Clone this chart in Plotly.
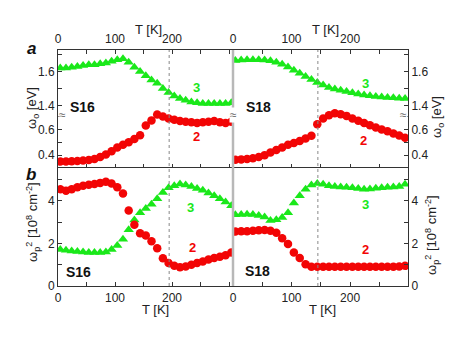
import plotly.graph_objects as go

W, H = 469, 349
# the page body keeps its default 8 px margin, so positions below are shifted back by it
OFF = 8

# temperature grids (K)
T_S16 = [4, 14, 24, 34, 44, 54, 64, 74, 84, 94, 104, 114, 124, 134, 144, 154,
         164, 174, 184, 194, 204, 214, 224, 234, 244, 254, 264, 274, 284, 294, 304]
T_S18 = [4, 14, 24, 34, 44, 54, 64, 74, 84, 94, 104, 114, 124, 134, 144, 154,
         164, 174, 184, 194, 204, 214, 224, 234, 244, 254, 264, 274, 284, 294]

# panel a: omega_o [eV]
S16_wo3 = [1.620, 1.620, 1.625, 1.630, 1.635, 1.640, 1.640, 1.645, 1.650, 1.660, 1.670,
           1.675, 1.655, 1.625, 1.600, 1.575, 1.550, 1.530, 1.500, 1.475, 1.455, 1.440,
           1.430, 1.420, 1.415, 1.410, 1.410, 1.410, 1.410, 1.410, 1.415]
S16_wo2 = [0.350, 0.350, 0.352, 0.355, 0.358, 0.362, 0.370, 0.385, 0.405, 0.430, 0.460,
           0.480, 0.500, 0.525, 0.555, 0.630, 0.670, 0.715, 0.700, 0.685, 0.675, 0.665,
           0.660, 0.655, 0.650, 0.655, 0.660, 0.665, 0.655, 0.650, 0.660]
S18_wo3 = [1.665, 1.668, 1.670, 1.670, 1.670, 1.668, 1.664, 1.655, 1.643, 1.627, 1.607,
           1.590, 1.570, 1.552, 1.535, 1.520, 1.506, 1.497, 1.489, 1.481, 1.474, 1.467,
           1.461, 1.456, 1.452, 1.449, 1.446, 1.444, 1.442, 1.440]
S18_wo2 = [0.365, 0.367, 0.370, 0.376, 0.385, 0.400, 0.420, 0.440, 0.460, 0.480, 0.495,
           0.510, 0.530, 0.550, 0.640, 0.685, 0.710, 0.725, 0.718, 0.705, 0.685, 0.668,
           0.650, 0.632, 0.615, 0.600, 0.585, 0.568, 0.552, 0.535]

# panel b: omega_p^2 [10^8 cm^-2]
S16_wp3 = [1.72, 1.68, 1.65, 1.62, 1.60, 1.58, 1.57, 1.58, 1.60, 1.72, 1.90, 2.20, 2.65,
           3.10, 3.45, 3.65, 3.85, 4.10, 4.40, 4.62, 4.72, 4.80, 4.75, 4.68, 4.58, 4.50,
           4.38, 4.25, 4.10, 3.95, 3.78]
S16_wp2 = [4.55, 4.48, 4.55, 4.65, 4.72, 4.76, 4.80, 4.85, 4.90, 4.82, 4.65, 4.35, 3.55,
           2.88, 2.48, 2.38, 2.10, 1.78, 1.30, 1.08, 0.95, 0.88, 0.92, 1.00, 1.08, 1.15,
           1.25, 1.32, 1.38, 1.45, 1.58]
S18_wp3 = [3.35, 3.36, 3.38, 3.36, 3.32, 3.25, 3.08, 3.12, 3.22, 3.45, 3.90, 4.25, 4.55,
           4.75, 4.82, 4.78, 4.72, 4.68, 4.66, 4.64, 4.62, 4.58, 4.55, 4.56, 4.60, 4.62,
           4.64, 4.66, 4.68, 4.78]
S18_wp2 = [2.56, 2.57, 2.58, 2.60, 2.62, 2.63, 2.60, 2.50, 2.25, 1.98, 1.58, 1.32, 1.02,
           0.91, 0.90, 0.91, 0.90, 0.91, 0.91, 0.90, 0.91, 0.90, 0.91, 0.90, 0.91, 0.91,
           0.90, 0.91, 0.92, 0.95]

GREEN = '#1ae81a'
RED = '#f20505'
AX = '#333333'
FONT = 'Liberation Sans, Arial, sans-serif'


def px(x):
    return (x - OFF) / W


def py(y):
    return 1 - (y - OFF) / H


def tri(t, v, xa, ya):
    return go.Scatter(x=t, y=v, xaxis=xa, yaxis=ya, mode='markers', showlegend=False,
                      marker=dict(symbol='triangle-up', size=9, color=GREEN, line=dict(width=0)))


def dot(t, v, xa, ya):
    return go.Scatter(x=t, y=v, xaxis=xa, yaxis=ya, mode='markers', showlegend=False,
                      marker=dict(symbol='circle', size=8.5, color=RED, line=dict(width=0)))


fig = go.Figure()
fig.add_trace(tri(T_S16, S16_wo3, 'x', 'y'))
fig.add_trace(dot(T_S16, S16_wo2, 'x2', 'y2'))
fig.add_trace(tri(T_S16, S16_wp3, 'x3', 'y3'))
fig.add_trace(dot(T_S16, S16_wp2, 'x3', 'y3'))
fig.add_trace(tri(T_S18, S18_wo3, 'x4', 'y4'))
fig.add_trace(dot(T_S18, S18_wo2, 'x5', 'y5'))
fig.add_trace(tri(T_S18, S18_wp3, 'x6', 'y6'))
fig.add_trace(dot(T_S18, S18_wp2, 'x6', 'y6'))

XL = [px(58), px(233)]
XR = [px(233), px(408)]
YA_UP = [py(107), py(50)]
YA_LO = [py(168), py(107)]
YB = [py(286), py(168)]

tickfont = dict(size=12, color='#222222', family=FONT)


def xax(domain, rng, anchor, side, labels, line=True, mirror=False):
    return dict(domain=domain, range=rng, anchor=anchor, side=side, automargin=False,
                tickvals=[0, 50, 100, 150, 200, 250, 300],
                ticktext=['0', '', '100', '', '200', '', ''],
                showticklabels=labels, ticks='inside', ticklen=4, tickcolor=AX,
                showline=line, mirror=mirror, linecolor=AX, linewidth=1,
                showgrid=False, zeroline=False, tickfont=tickfont, ticklabelstandoff=1)


def yax(domain, rng, anchor, side, vals, text):
    return dict(domain=domain, range=rng, anchor=anchor, side=side, automargin=False,
                tickvals=vals, ticktext=text, ticks='inside', ticklen=4, tickcolor=AX,
                showline=True, linecolor=AX, linewidth=1, showgrid=False, zeroline=False,
                tickfont=tickfont)


RL = [0, 307]
RR = [0, 299]
RA_UP = [1.39, 1.727]
RA_LO = [0.30, 0.774]
RB = [0, 5.55]
up_v, up_t = [1.4, 1.5, 1.6, 1.7], ['1.4', '', '1.6', '']
lo_v, lo_t = [0.4, 0.5, 0.6, 0.7], ['0.4', '', '0.6', '']
b_v, b_t = [0, 1, 2, 3, 4, 5], ['0', '', '2', '', '4', '']

fig.update_layout(
    width=W, height=H,
    margin=dict(l=0, r=0, t=0, b=0, autoexpand=False),
    paper_bgcolor='white', plot_bgcolor='white',
    font=dict(family=FONT, color='#222222'),
    xaxis=xax(XL, RL, 'y', 'top', True),
    xaxis2=xax(XL, RL, 'y2', 'bottom', False, line=False),
    xaxis3=xax(XL, RL, 'y3', 'bottom', True, mirror=True),
    xaxis4=xax(XR, RR, 'y4', 'top', True),
    xaxis5=xax(XR, RR, 'y5', 'bottom', False, line=False),
    xaxis6=xax(XR, RR, 'y6', 'bottom', True, mirror=True),
    yaxis=yax(YA_UP, RA_UP, 'x', 'left', up_v, up_t),
    yaxis2=yax(YA_LO, RA_LO, 'x2', 'left', lo_v, lo_t),
    yaxis3=yax(YB, RB, 'x3', 'left', b_v, b_t),
    yaxis4=yax(YA_UP, RA_UP, 'x4', 'right', up_v, up_t),
    yaxis5=yax(YA_LO, RA_LO, 'x5', 'right', lo_v, lo_t),
    yaxis6=yax(YB, RB, 'x6', 'right', b_v, b_t),
)

# dotted transition lines and the grey separator between samples
fig.add_shape(type='line', xref='x', yref='paper', x0=195, x1=195, y0=py(286), y1=py(50),
              line=dict(color='#888888', width=1, dash='dot'))
fig.add_shape(type='line', xref='x4', yref='paper', x0=145, x1=145, y0=py(286), y1=py(50),
              line=dict(color='#888888', width=1, dash='dot'))
fig.add_shape(type='line', xref='paper', yref='paper', x0=px(233), x1=px(233),
              y0=py(286), y1=py(50), line=dict(color='#b8b8b8', width=2.5), layer='above')

# axis break marks
for bx in (58, 233, 408):
    fig.add_annotation(x=px(bx), y=py(107), xref='paper', yref='paper', text='≈',
                       showarrow=False, font=dict(size=12, color='#666666'),
                       bgcolor='white', borderpad=0)

ann = [
    ('T [K]', 148, 30, 13, '#222222', 'center'),
    ('T [K]', 325, 30, 13, '#222222', 'center'),
    ('T [K]', 155, 309, 13, '#222222', 'center'),
    ('T [K]', 322, 309, 13, '#222222', 'center'),
    ('<b><i>a</i></b>', 31, 49, 17, '#111111', 'center'),
    ('<b><i>b</i></b>', 31, 175, 17, '#111111', 'center'),
    ('<b>S16</b>', 68, 107, 14, '#111111', 'left'),
    ('<b>S18</b>', 244, 107, 14, '#111111', 'left'),
    ('<b>S16</b>', 64, 272, 14, '#111111', 'left'),
    ('<b>S18</b>', 243, 271, 14, '#111111', 'left'),
    ('<b>3</b>', 196, 87, 13, GREEN, 'center'),
    ('<b>2</b>', 196, 137, 13, RED, 'center'),
    ('<b>3</b>', 365, 83, 13, GREEN, 'center'),
    ('<b>2</b>', 363, 140, 13, RED, 'center'),
    ('<b>3</b>', 190, 207, 13, GREEN, 'center'),
    ('<b>2</b>', 192, 248, 13, RED, 'center'),
    ('<b>3</b>', 365, 204, 13, GREEN, 'center'),
    ('<b>2</b>', 365, 250, 13, RED, 'center'),
]
for text, x, y, size, color, align in ann:
    fig.add_annotation(x=px(x), y=py(y), xref='paper', yref='paper', text=text,
                       showarrow=False, xanchor=align, yanchor='middle',
                       font=dict(size=size, color=color, family=FONT))

titles = [
    ('ω<sub>o</sub> [eV]', 32, 108),
    ('ω<sub>o</sub> [eV]', 437, 117),
    ('ω<sub>p</sub><sup>2</sup> [10<sup>8</sup> cm<sup>-2</sup>]', 33, 222),
    ('ω<sub>p</sub><sup>2</sup> [10<sup>8</sup> cm<sup>-2</sup>]', 432, 235),
]
for text, x, y in titles:
    fig.add_annotation(x=px(x), y=py(y), xref='paper', yref='paper', text=text,
                       textangle=-90, showarrow=False, xanchor='center', yanchor='middle',
                       font=dict(size=13, color='#222222', family=FONT))

fig.write_html("out.html")
